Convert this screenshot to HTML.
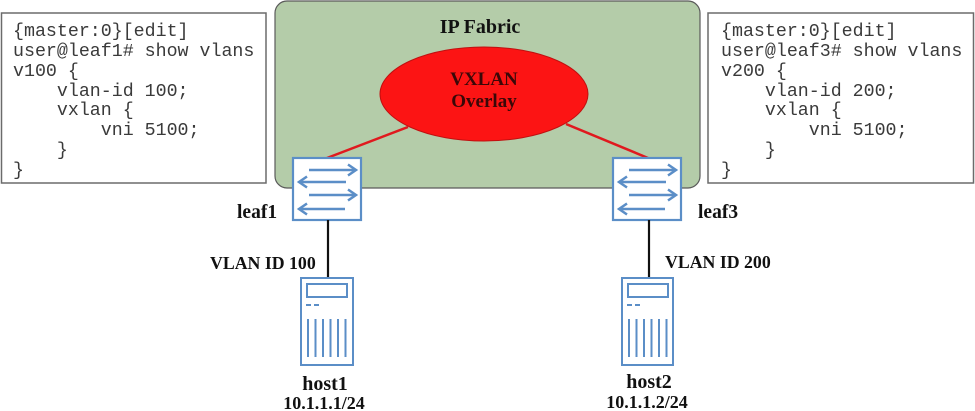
<!DOCTYPE html>
<html>
<head>
<meta charset="utf-8">
<style>
html,body{margin:0;padding:0;background:#fff;}
svg{display:block;}
.code{font-family:"Liberation Mono",monospace;font-size:18.3px;fill:#3a3a3a;}
.lbl{font-family:"Liberation Serif",serif;font-weight:bold;fill:#111;}
</style>
</head>
<body>
<svg width="975" height="411" viewBox="0 0 975 411" xmlns="http://www.w3.org/2000/svg">
  <!-- Left code box -->
  <rect x="1.5" y="13" width="264.5" height="170" fill="#fff" stroke="#6b6b6b" stroke-width="1.5"/>
  <text class="code" xml:space="preserve">
    <tspan x="13" y="36">{master:0}[edit]</tspan>
    <tspan x="13" y="56">user@leaf1# show vlans</tspan>
    <tspan x="13" y="76">v100 {</tspan>
    <tspan x="13" y="96">    vlan-id 100;</tspan>
    <tspan x="13" y="115">    vxlan {</tspan>
    <tspan x="13" y="135">        vni 5100;</tspan>
    <tspan x="13" y="155">    }</tspan>
    <tspan x="13" y="175">}</tspan>
  </text>

  <!-- Right code box -->
  <rect x="708" y="13" width="265.5" height="170" fill="#fff" stroke="#6b6b6b" stroke-width="1.5"/>
  <text class="code" xml:space="preserve">
    <tspan x="721" y="36">{master:0}[edit]</tspan>
    <tspan x="721" y="56">user@leaf3# show vlans</tspan>
    <tspan x="721" y="76">v200 {</tspan>
    <tspan x="721" y="96">    vlan-id 200;</tspan>
    <tspan x="721" y="115">    vxlan {</tspan>
    <tspan x="721" y="135">        vni 5100;</tspan>
    <tspan x="721" y="155">    }</tspan>
    <tspan x="721" y="175">}</tspan>
  </text>

  <!-- IP Fabric -->
  <rect x="275" y="1" width="425" height="187" rx="12" ry="12" fill="#b4cca9" stroke="#5a5a5a" stroke-width="1.2"/>
  <text class="lbl" x="480" y="33" font-size="20" text-anchor="middle">IP Fabric</text>

  <!-- red connectors -->
  <line x1="327" y1="158" x2="408" y2="127" stroke="#e0191e" stroke-width="2.5"/>
  <line x1="566" y1="124" x2="648" y2="158" stroke="#e0191e" stroke-width="2.5"/>

  <!-- VXLAN ellipse -->
  <ellipse cx="484" cy="94" rx="104" ry="47" fill="#fc1414" stroke="#c01010" stroke-width="1"/>
  <text class="lbl" x="484" y="85" font-size="19" text-anchor="middle" style="fill:#3a0808">VXLAN</text>
  <text class="lbl" x="484" y="107" font-size="19" text-anchor="middle" style="fill:#3a0808">Overlay</text>

  <!-- Switch leaf1 -->
  <g transform="translate(293,158)" fill="none" stroke="#5b8ec7" stroke-width="2.5">
    <rect x="0" y="0" width="68" height="62" fill="#fff" stroke-width="2.2"/>
    <line x1="16" y1="12" x2="63" y2="12"/><polyline points="55,6.5 63,12 55,17.5"/>
    <line x1="6" y1="24" x2="53" y2="24"/><polyline points="14,18.5 6,24 14,29.5"/>
    <line x1="16" y1="37" x2="63" y2="37"/><polyline points="55,31.5 63,37 55,42.5"/>
    <line x1="6" y1="51" x2="52" y2="51"/><polyline points="14,45.5 6,51 14,56.5"/>
  </g>
  <!-- Switch leaf3 -->
  <g transform="translate(613,158)" fill="none" stroke="#5b8ec7" stroke-width="2.5">
    <rect x="0" y="0" width="68" height="62" fill="#fff" stroke-width="2.2"/>
    <line x1="16" y1="12" x2="63" y2="12"/><polyline points="55,6.5 63,12 55,17.5"/>
    <line x1="6" y1="24" x2="53" y2="24"/><polyline points="14,18.5 6,24 14,29.5"/>
    <line x1="16" y1="37" x2="63" y2="37"/><polyline points="55,31.5 63,37 55,42.5"/>
    <line x1="6" y1="51" x2="52" y2="51"/><polyline points="14,45.5 6,51 14,56.5"/>
  </g>

  <text class="lbl" x="237" y="218" font-size="19.5">leaf1</text>
  <text class="lbl" x="698" y="218" font-size="19.5">leaf3</text>

  <!-- vertical links -->
  <line x1="328" y1="220" x2="328" y2="279" stroke="#111" stroke-width="2.2"/>
  <line x1="649" y1="220" x2="649" y2="279" stroke="#111" stroke-width="2.2"/>

  <text class="lbl" x="210" y="269" font-size="17.8">VLAN ID 100</text>
  <text class="lbl" x="665" y="268" font-size="17.8">VLAN ID 200</text>

  <!-- host1 -->
  <g transform="translate(301,278)" fill="none" stroke="#5b8ec7" stroke-width="2">
    <rect x="0" y="0" width="52" height="87" fill="#fff"/>
    <rect x="6" y="6" width="40" height="13"/>
    <line x1="5" y1="27" x2="10" y2="27"/><line x1="13" y1="27" x2="18" y2="27"/>
    <line x1="7" y1="41" x2="7" y2="79"/>
    <line x1="14.5" y1="41" x2="14.5" y2="79"/>
    <line x1="22" y1="41" x2="22" y2="79"/>
    <line x1="29.5" y1="41" x2="29.5" y2="79"/>
    <line x1="37" y1="41" x2="37" y2="79"/>
    <line x1="44.5" y1="41" x2="44.5" y2="79"/>
  </g>
  <!-- host2 -->
  <g transform="translate(622,278)" fill="none" stroke="#5b8ec7" stroke-width="2">
    <rect x="0" y="0" width="51" height="87" fill="#fff"/>
    <rect x="6" y="6" width="40" height="13"/>
    <line x1="5" y1="27" x2="10" y2="27"/><line x1="13" y1="27" x2="18" y2="27"/>
    <line x1="7" y1="41" x2="7" y2="79"/>
    <line x1="14.5" y1="41" x2="14.5" y2="79"/>
    <line x1="22" y1="41" x2="22" y2="79"/>
    <line x1="29.5" y1="41" x2="29.5" y2="79"/>
    <line x1="37" y1="41" x2="37" y2="79"/>
    <line x1="44.5" y1="41" x2="44.5" y2="79"/>
  </g>

  <text class="lbl" x="325" y="390" font-size="20" text-anchor="middle">host1</text>
  <text class="lbl" x="324" y="409" font-size="18" text-anchor="middle">10.1.1.1/24</text>
  <text class="lbl" x="649" y="388" font-size="20" text-anchor="middle">host2</text>
  <text class="lbl" x="647" y="408" font-size="18" text-anchor="middle">10.1.1.2/24</text>
</svg>
</body>
</html>
